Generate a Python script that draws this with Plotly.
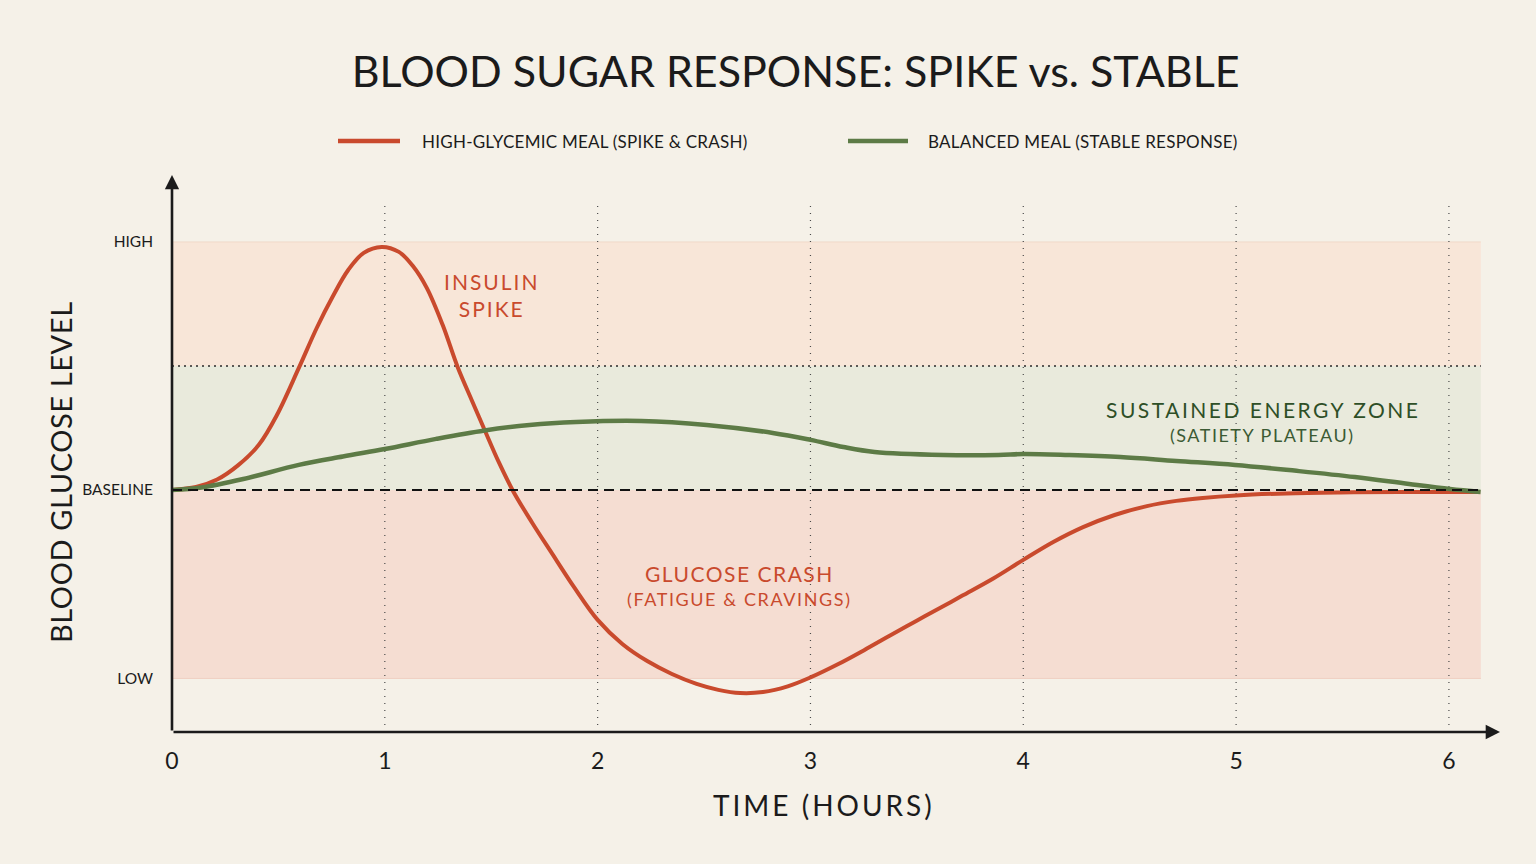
import plotly.graph_objects as go

# ---------------- data ----------------
# relative glucose level: BASELINE = 0, HIGH = 100, LOW = -76
red_hours = [0.000, 0.113, 0.212, 0.310, 0.409, 0.493, 0.596, 0.680, 0.754, 0.828, 0.901,
             0.985, 1.066, 1.132, 1.197, 1.272, 1.342, 1.408, 1.469, 1.535, 1.605, 1.693,
             1.781, 1.890, 2.000, 2.116, 2.233, 2.349, 2.465, 2.567, 2.670, 2.777, 2.893,
             3.000, 3.131, 3.252, 3.374, 3.495, 3.617, 3.714, 3.859, 4.000, 4.143, 4.281,
             4.429, 4.581, 4.719, 4.843, 5.000, 5.236, 5.490, 5.764, 6.144]
red_level = [0.0, 1.2, 4.2, 9.9, 18.3, 30.2, 49.2, 65.3, 77.8, 88.7, 95.6,
             98.0, 96.0, 90.3, 81.5, 66.5, 49.6, 36.3, 24.2, 11.3, -0.8, -13.3,
             -25.0, -39.3, -52.4, -62.1, -69.0, -74.2, -78.2, -80.6, -81.9, -81.5, -79.2,
             -75.6, -70.2, -64.6, -58.7, -52.9, -47.2, -42.6, -35.7, -28.2, -20.9, -15.0,
             -10.1, -6.5, -4.4, -3.2, -2.2, -1.4, -1.0, -0.8, -0.8]

green_hours = [0.000, 0.138, 0.335, 0.596, 0.803, 1.000, 1.241, 1.469, 1.680, 1.899, 2.205,
               2.512, 2.823, 3.000, 3.155, 3.301, 3.626, 3.883, 4.000, 4.212, 4.456, 4.719,
               4.995, 5.284, 5.558, 5.813, 6.005, 6.149]
green_level = [0.0, 1.0, 4.4, 10.1, 13.5, 16.5, 20.6, 24.0, 26.2, 27.4, 27.8,
               26.2, 23.0, 20.2, 17.3, 15.3, 14.1, 14.1, 14.5, 14.1, 13.3, 11.7,
               10.1, 7.7, 5.2, 2.4, 0.4, -0.8]

x_ticks = [0, 1, 2, 3, 4, 5, 6]
x_tick_labels = ["0", "1", "2", "3", "4", "5", "6"]
y_ticks = [100, 0, -76]
y_tick_labels = ["HIGH", "BASELINE", "LOW"]

zone_high = 100      # top of spike band
zone_sustained = 50  # top of sustained energy zone
zone_low = -76       # bottom of crash band
band_end = 6.15

series_names = ["HIGH-GLYCEMIC MEAL (SPIKE & CRASH)", "BALANCED MEAL (STABLE RESPONSE)"]

# ---------------- style ----------------
BG = "#f5f1e8"
RED = "#c94a2d"
GREEN = "#5d7b46"
DARK_GREEN = "#2e4f27"
INK = "#1b1b1b"
FONT = "Lato"

W, H = 1536, 864
M_L, M_R, M_T, M_B = 172, 36, 175, 132
X_RANGE = [0, 6.24]
Y_RANGE = [-97.6, 127]


def px_x(px):
    return (px - M_L) / (W - M_L - M_R)


def px_y(py):
    return (H - M_B - py) / (H - M_T - M_B)


def spaced(text, sp):
    return '<span style="letter-spacing:%spx">%s</span>' % (sp, text)


fig = go.Figure()

fig.add_trace(go.Scatter(
    x=red_hours, y=red_level, mode="lines", name=series_names[0], showlegend=False,
    line=dict(color=RED, width=4, shape="spline", smoothing=1.0),
    hoverinfo="skip"))
fig.add_trace(go.Scatter(
    x=green_hours, y=green_level, mode="lines", name=series_names[1], showlegend=False,
    line=dict(color=GREEN, width=4.5, shape="spline", smoothing=1.0),
    hoverinfo="skip"))

shapes = []
# bands
shapes.append(dict(type="rect", xref="x", yref="y", x0=0, x1=band_end, y0=zone_sustained, y1=zone_high,
                   fillcolor="#f8e6d8", line=dict(width=0), layer="below"))
shapes.append(dict(type="line", xref="x", yref="y", x0=0, x1=band_end, y0=zone_high, y1=zone_high,
                   line=dict(color="#f1d9c8", width=1), layer="below"))
shapes.append(dict(type="rect", xref="x", yref="y", x0=0, x1=band_end, y0=0, y1=zone_sustained,
                   fillcolor="#e9eadc", line=dict(width=0), layer="below"))
shapes.append(dict(type="rect", xref="x", yref="y", x0=0, x1=band_end, y0=zone_low, y1=0,
                   fillcolor="#f5ddd2", line=dict(width=0), layer="below"))
shapes.append(dict(type="line", xref="x", yref="y", x0=0, x1=band_end, y0=zone_low, y1=zone_low,
                   line=dict(color="#efcfc2", width=1), layer="below"))
# vertical dotted hour lines
for h in x_ticks[1:]:
    shapes.append(dict(type="line", xref="x", yref="y", x0=h, x1=h, y0=Y_RANGE[0], y1=115,
                       line=dict(color="#4a4a4a", width=1.2, dash="1px,6px"), layer="below"))
# sustained zone top (dotted)
shapes.append(dict(type="line", xref="x", yref="y", x0=0, x1=band_end, y0=zone_sustained, y1=zone_sustained,
                   line=dict(color="#2a2a2a", width=1.6, dash="2px,4px"), layer="below"))
# baseline (dashed)
shapes.append(dict(type="line", xref="x", yref="y", x0=0, x1=band_end, y0=0, y1=0,
                   line=dict(color="#111111", width=2, dash="10px,6px"), layer="above"))

annotations = []
# legend (manual, so sample length and gaps match)
legend_items = [(338, 400, 420, RED, series_names[0]), (848, 908, 926, GREEN, series_names[1])]
for x0, x1, xt, col, name in legend_items:
    shapes.append(dict(type="line", xref="paper", yref="paper", x0=px_x(x0), x1=px_x(x1),
                       y0=px_y(141), y1=px_y(141), line=dict(color=col, width=4.5)))
    annotations.append(dict(x=px_x(xt), y=px_y(141), xref="paper", yref="paper", showarrow=False,
                            xanchor="left", yanchor="middle", text=spaced(name.replace("&", "&amp;"), 0.25),
                            font=dict(family=FONT, size=17, color=INK)))

# axis arrows
annotations.append(dict(x=X_RANGE[1], y=Y_RANGE[0], ax=0, ay=Y_RANGE[0], xref="x", yref="y",
                        axref="x", ayref="y", text="", showarrow=True, arrowhead=2,
                        arrowsize=1.1, arrowwidth=2.6, arrowcolor=INK, standoff=0, startstandoff=0))
annotations.append(dict(x=0, y=Y_RANGE[1], ax=0, ay=Y_RANGE[0], xref="x", yref="y",
                        axref="x", ayref="y", text="", showarrow=True, arrowhead=2,
                        arrowsize=1.1, arrowwidth=2.6, arrowcolor=INK, standoff=0, startstandoff=0))
# in-chart labels
annotations.append(dict(x=1.50, y=78.5, xref="x", yref="y", showarrow=False,
                        text=spaced("INSULIN", 2) + "<br>" + spaced("SPIKE", 2), align="center",
                        font=dict(family=FONT, size=21, color=RED)))
annotations.append(dict(x=2.668, y=-33.5, xref="x", yref="y", showarrow=False,
                        text=spaced("GLUCOSE CRASH", 1.5), font=dict(family=FONT, size=21, color=RED)))
annotations.append(dict(x=2.668, y=-44, xref="x", yref="y", showarrow=False,
                        text=spaced("(FATIGUE &amp; CRAVINGS)", 1.6), font=dict(family=FONT, size=18, color=RED)))
annotations.append(dict(x=5.128, y=32.5, xref="x", yref="y", showarrow=False,
                        text=spaced("SUSTAINED ENERGY ZONE", 2.5),
                        font=dict(family=FONT, size=21, color=DARK_GREEN)))
annotations.append(dict(x=5.125, y=22, xref="x", yref="y", showarrow=False,
                        text=spaced("(SATIETY PLATEAU)", 1.5), font=dict(family=FONT, size=18, color="#3b5a34")))
# axis titles
annotations.append(dict(x=px_x(60), y=px_y(472), xref="paper", yref="paper", showarrow=False,
                        xanchor="center", yanchor="middle",
                        text=spaced("BLOOD GLUCOSE LEVEL", 0.6), textangle=-90,
                        font=dict(family=FONT, size=29, color=INK)))
annotations.append(dict(x=px_x(824), y=px_y(805), xref="paper", yref="paper", showarrow=False,
                        xanchor="center", yanchor="middle",
                        text=spaced("TIME (HOURS)", 3), font=dict(family=FONT, size=28, color=INK)))

fig.update_layout(
    width=W, height=H,
    paper_bgcolor=BG, plot_bgcolor=BG,
    margin=dict(l=M_L, r=M_R, t=M_T, b=M_B),
    title=dict(text="BLOOD SUGAR RESPONSE: SPIKE vs. STABLE", x=0.518, xanchor="center",
               y=0.917, yanchor="middle",
               font=dict(family=FONT, size=43, color=INK)),
    showlegend=False,
    shapes=shapes, annotations=annotations,
    xaxis=dict(range=X_RANGE, tickvals=x_ticks, ticktext=x_tick_labels, showgrid=False,
               zeroline=False, showline=False, ticks="", ticklabelstandoff=13,
               tickfont=dict(family=FONT, size=23, color=INK)),
    yaxis=dict(range=Y_RANGE, tickvals=y_ticks, ticktext=y_tick_labels, showgrid=False,
               zeroline=False, showline=False, ticks="", ticklabelstandoff=18,
               tickfont=dict(family=FONT, size=15.5, color=INK)),
)

fig.write_html("out.html")
